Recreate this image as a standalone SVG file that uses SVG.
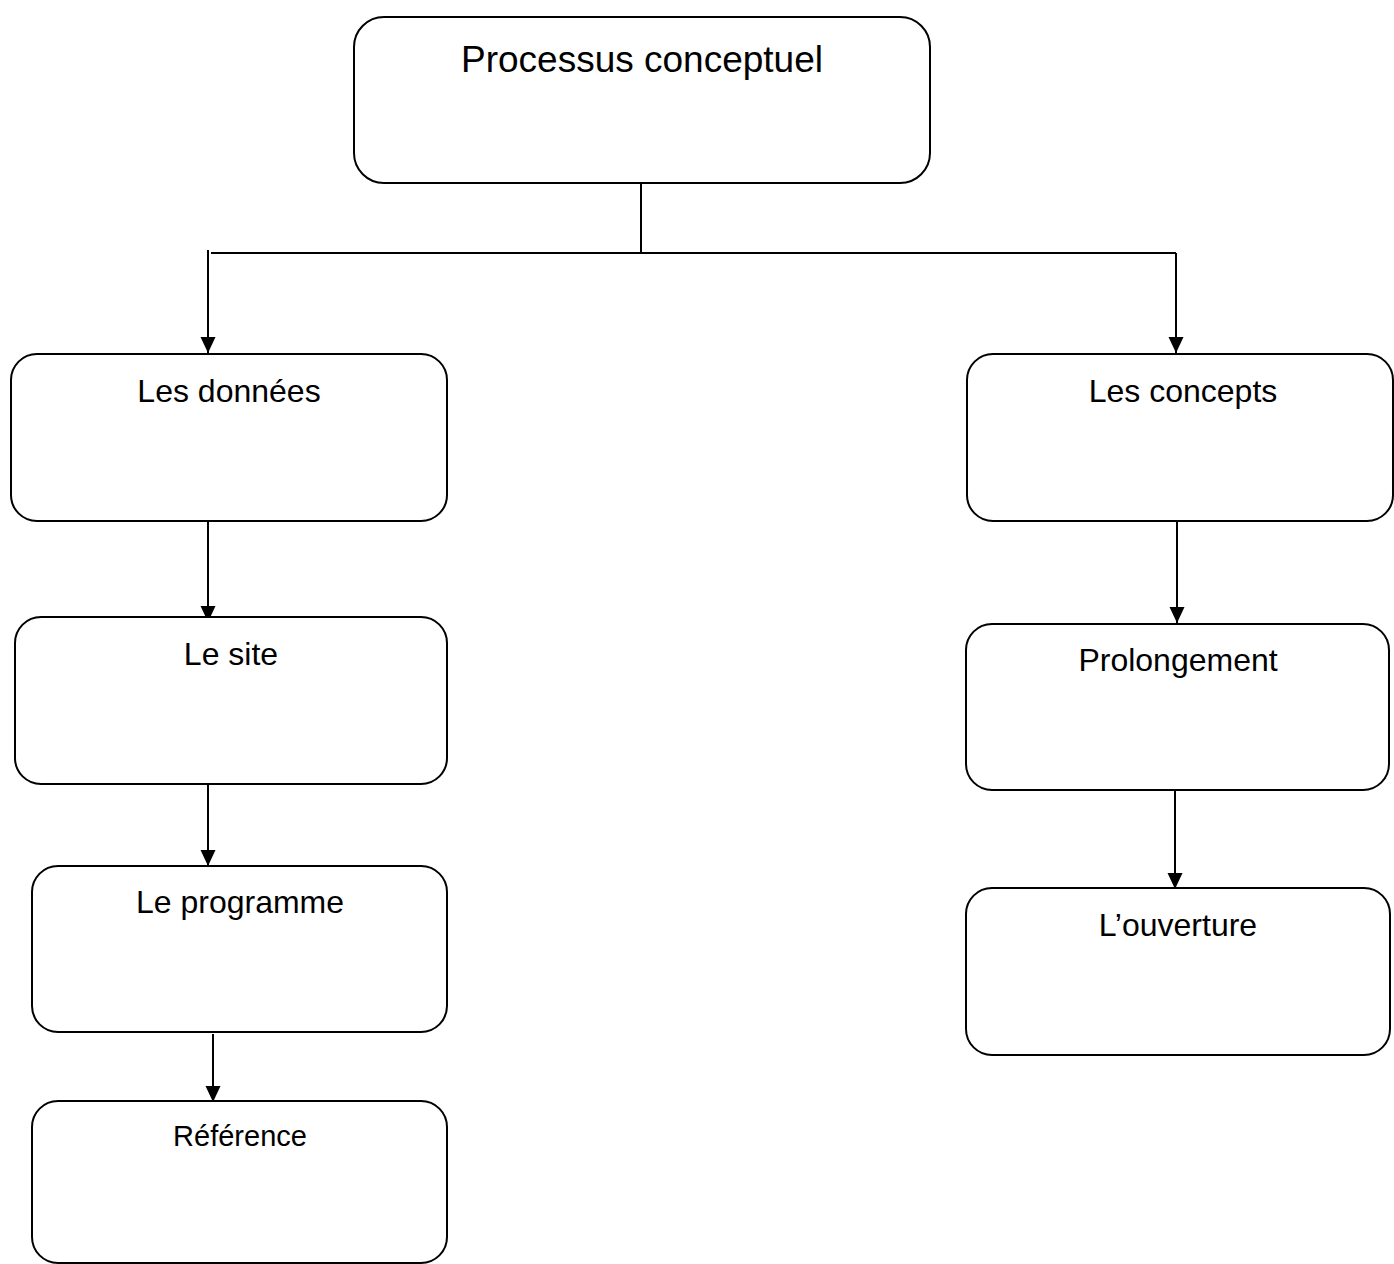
<svg xmlns="http://www.w3.org/2000/svg" width="1394" height="1264" viewBox="0 0 1394 1264">
<defs>
<style>
.box{fill:#fff;stroke:#000;stroke-width:2}
.lbl{font-family:"Liberation Sans",Arial,sans-serif;fill:#000;text-anchor:middle}
.ln{fill:none;stroke:#000;stroke-width:2}
</style>
<marker id="ah" markerUnits="userSpaceOnUse" markerWidth="16" markerHeight="16" refX="16" refY="8" orient="auto" viewBox="0 0 16 16">
<path d="M0,0.5 L16,8 L0,15.5 z" fill="#000"/>
</marker>
</defs>
<rect width="1394" height="1264" fill="#fff"/>
<g id="connectors">
<path class="ln" d="M641,183 V253"/>
<path class="ln" d="M211,253 H1176"/>
<path class="ln" d="M208,250 V353" marker-end="url(#ah)"/>
<path class="ln" d="M1176,253 V353" marker-end="url(#ah)"/>
<path class="ln" d="M208,521 V622" marker-end="url(#ah)"/>
<path class="ln" d="M208,784 V866" marker-end="url(#ah)"/>
<path class="ln" d="M213,1034 V1102" marker-end="url(#ah)"/>
<path class="ln" d="M1177,521 V623" marker-end="url(#ah)"/>
<path class="ln" d="M1175,790 V889" marker-end="url(#ah)"/>
</g>
<g id="n-processus">
<rect class="box" x="354" y="17" width="576" height="166" rx="30"/>
<text class="lbl" x="642" y="72" font-size="37">Processus conceptuel</text>
</g>
<g id="n-donnees">
<rect class="box" x="11" y="354" width="436" height="167" rx="26"/>
<text class="lbl" x="229" y="402" font-size="32">Les données</text>
</g>
<g id="n-site">
<rect class="box" x="15" y="617" width="432" height="167" rx="26"/>
<text class="lbl" x="231" y="665" font-size="32">Le site</text>
</g>
<g id="n-programme">
<rect class="box" x="32" y="866" width="415" height="166" rx="26"/>
<text class="lbl" x="240" y="913" font-size="32">Le programme</text>
</g>
<g id="n-reference">
<rect class="box" x="32" y="1101" width="415" height="162" rx="26"/>
<text class="lbl" x="240" y="1146" font-size="29">Référence</text>
</g>
<g id="n-concepts">
<rect class="box" x="967" y="354" width="426" height="167" rx="26"/>
<text class="lbl" x="1183" y="402" font-size="32">Les concepts</text>
</g>
<g id="n-prolongement">
<rect class="box" x="966" y="624" width="423" height="166" rx="26"/>
<text class="lbl" x="1178" y="671" font-size="32">Prolongement</text>
</g>
<g id="n-ouverture">
<rect class="box" x="966" y="888" width="424" height="167" rx="26"/>
<text class="lbl" x="1178" y="936" font-size="32">L’ouverture</text>
</g>
</svg>
